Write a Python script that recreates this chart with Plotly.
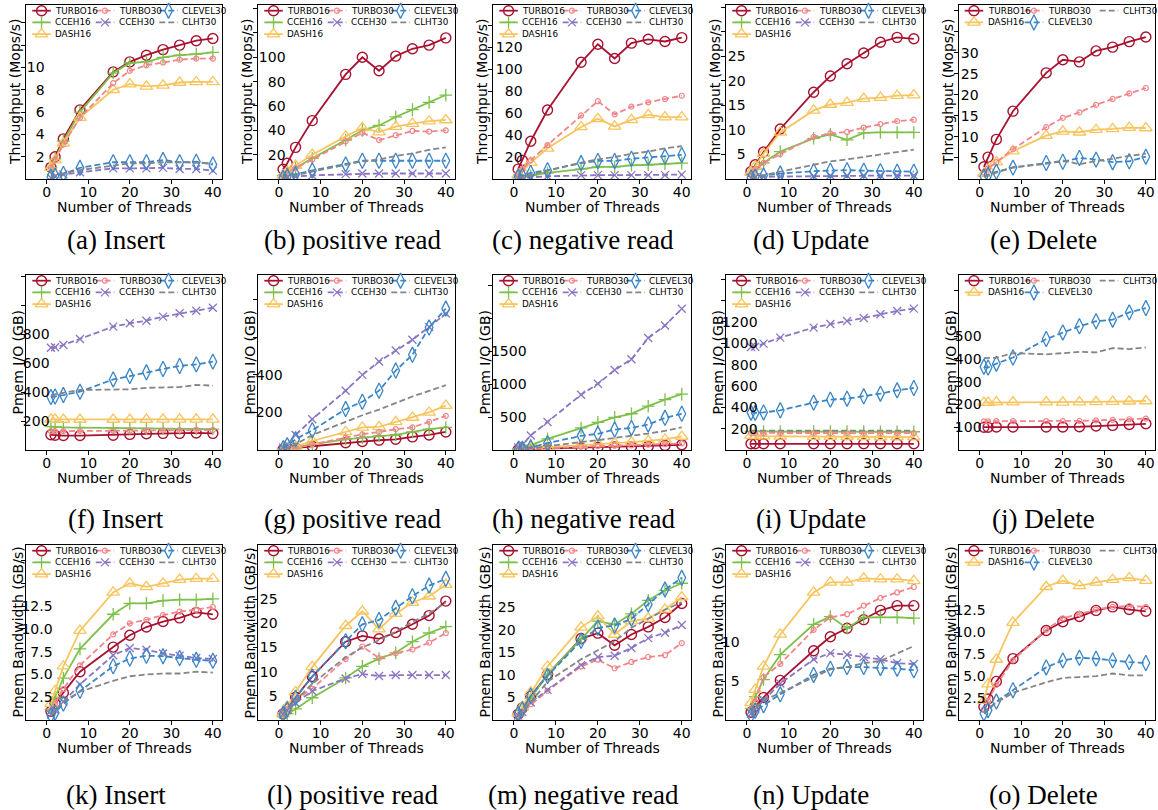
import plotly.graph_objects as go

W, H = 1158, 810

THREADS = [1, 2, 4, 8, 16, 20, 24, 28, 32, 36, 40]

# ---- throughput (Mops/s) ----
INSERT_TPUT = {
    "TURBO16": [1.05, 2.0, 3.6, 6.2, 9.6, 10.5, 11.1, 11.6, 12.0, 12.4, 12.6],
    "CCEH16": [1.0, 1.8, 3.4, 6.0, 9.5, 10.4, 10.5, 10.9, 11.1, 11.2, 11.35],
    "DASH16": [1.0, 1.7, 3.2, 5.5, 8.0, 8.5, 8.3, 8.4, 8.65, 8.7, 8.7],
    "TURBO30": [1.0, 1.7, 3.1, 5.5, 8.6, 9.7, 10.2, 10.45, 10.7, 10.8, 10.8],
    "CCEH30": [0.1, 0.2, 0.4, 0.6, 0.95, 0.95, 0.95, 1.0, 0.9, 0.9, 0.75],
    "CLEVEL30": [0.2, 0.3, 0.45, 1.0, 1.5, 1.5, 1.5, 1.7, 1.5, 1.55, 1.3],
    "CLHT30": [0.2, 0.3, 0.5, 0.8, 1.2, 1.4, 1.4, 1.5, 1.5, 1.45, 1.4],
}
POS_READ_TPUT = {
    "TURBO16": [8, 13, 26, 48, 86, 100, 89, 101, 107, 110, 116],
    "CCEH16": [3, 5, 9, 17, 32, 40, 44, 51, 57, 63, 69],
    "DASH16": [3, 6, 11, 20, 35, 42, 38.5, 43, 45.5, 47.5, 48.5],
    "TURBO30": [3, 5, 9, 16, 31, 38, 32, 36, 39.5, 39, 40],
    "CCEH30": [0.5, 1, 2, 3, 4, 4.5, 4.5, 4.5, 4.5, 4.5, 4.5],
    "CLEVEL30": [1, 2, 4, 7, 12, 15, 15, 15, 15, 15, 15],
    "CLHT30": [1, 1.5, 3, 6, 12, 14.5, 16, 19, 21, 24, 26],
}
NEG_READ_TPUT = {
    "TURBO16": [9, 17, 34.5, 63, 106.5, 123, 110, 124, 127.5, 125.5, 129],
    "CCEH16": [1, 2, 3, 5.5, 9, 11, 11, 12.5, 13, 14, 14.5],
    "DASH16": [4, 7, 15, 28, 47.5, 55, 48, 54, 58.5, 56.5, 56.5],
    "TURBO30": [5, 9, 17, 31, 58, 71, 59, 66, 70, 73, 76],
    "CCEH30": [0.5, 1, 1.5, 2.5, 3.5, 3.5, 3.5, 3.5, 3.5, 3.5, 4],
    "CLEVEL30": [2, 3, 5.5, 8, 14.5, 16.5, 16.5, 18.5, 19.5, 20.5, 22],
    "CLHT30": [1, 2, 4, 7.5, 15, 18, 20, 23, 25, 28, 30],
}
UPDATE_TPUT = {
    "TURBO16": [1.5, 2.9, 5.5, 10.2, 17.7, 21.0, 23.5, 25.7, 27.9, 28.9, 28.6],
    "CCEH16": [1.0, 2.0, 3.3, 5.6, 8.3, 9.1, 8.0, 9.4, 9.5, 9.5, 9.5],
    "DASH16": [1.3, 2.6, 5.2, 9.5, 14.0, 15.2, 15.6, 16.4, 16.6, 17.0, 17.1],
    "TURBO30": [1.0, 2.0, 3.3, 5.1, 8.6, 9.3, 9.6, 10.5, 11.2, 11.8, 12.1],
    "CCEH30": [0.2, 0.3, 0.4, 0.5, 0.6, 0.7, 0.7, 0.7, 0.7, 0.7, 0.7],
    "CLEVEL30": [0.3, 0.5, 0.7, 1.1, 1.6, 1.7, 1.8, 1.7, 1.6, 1.5, 1.5],
    "CLHT30": [0.3, 0.5, 0.8, 1.5, 3.0, 3.6, 4.0, 4.5, 5.0, 5.5, 6.0],
}
DELETE_TPUT = {
    "TURBO16": [2.9, 5.2, 9.4, 16.1, 25.2, 28.3, 27.8, 30.4, 31.3, 32.6, 33.7],
    "DASH16": [1.3, 2.3, 4.0, 6.6, 10.3, 11.3, 11.1, 11.7, 11.9, 12.2, 12.1],
    "TURBO30": [1.5, 2.5, 4.0, 7.1, 12.3, 14.5, 15.8, 17.6, 19.0, 20.3, 21.6],
    "CLEVEL30": [0.6, 1.0, 1.7, 2.7, 3.8, 4.1, 5.0, 4.6, 4.0, 4.2, 5.3],
    "CLHT30": [0.5, 0.9, 1.5, 2.8, 3.6, 4.4, 3.5, 4.3, 4.8, 5.5, 6.0],
}

# ---- Pmem I/O (GB) ----
INSERT_IO = {
    "TURBO16": [105, 102, 100, 100, 102, 108, 112, 115, 115, 118, 115],
    "CCEH16": [162, 160, 157, 155, 152, 150, 149, 148, 147, 146, 145],
    "DASH16": [212, 212, 211, 211, 211, 211, 211, 212, 212, 212, 212],
    "TURBO30": [130, 130, 131, 132, 133, 134, 135, 136, 137, 138, 138],
    "CCEH30": [707, 710, 726, 767, 853, 876, 894, 922, 945, 963, 984],
    "CLEVEL30": [366, 370, 380, 403, 488, 511, 537, 560, 581, 592, 611],
    "CLHT30": [380, 385, 395, 415, 418, 420, 430, 430, 435, 450, 445],
}
POS_READ_IO = {
    "TURBO16": [2, 4, 10, 20, 39, 45, 52, 57, 70, 80, 96],
    "CCEH16": [3, 6, 12, 30, 57, 66, 75, 80, 96, 111, 120],
    "DASH16": [5, 10, 18, 48, 96, 120, 123, 150, 173, 200, 236],
    "TURBO30": [3, 6, 12, 30, 66, 84, 96, 111, 120, 150, 182],
    "CCEH30": [14, 30, 80, 164, 316, 400, 471, 530, 587, 655, 727],
    "CLEVEL30": [8, 25, 57, 105, 218, 257, 316, 423, 507, 652, 753],
    "CLHT30": [4, 10, 30, 80, 150, 185, 215, 250, 285, 315, 345],
}
NEG_READ_IO = {
    "TURBO16": [5, 8, 12, 20, 35, 40, 45, 50, 55, 70, 80],
    "CCEH16": [20, 40, 75, 170, 335, 420, 495, 550, 665, 765, 848],
    "DASH16": [8, 15, 25, 45, 80, 95, 105, 120, 140, 160, 205],
    "TURBO30": [5, 8, 15, 30, 50, 60, 65, 70, 80, 90, 100],
    "CCEH30": [40, 80, 220, 424, 840, 1005, 1215, 1378, 1700, 1890, 2145],
    "CLEVEL30": [10, 20, 40, 104, 215, 245, 310, 335, 388, 488, 550],
    "CLHT30": [5, 12, 30, 60, 120, 150, 180, 220, 250, 290, 345],
}
UPDATE_IO = {
    "TURBO16": [58, 58, 58, 58, 58, 58, 58, 58, 58, 58, 58],
    "CCEH16": [175, 174, 174, 173, 173, 172, 172, 172, 171, 171, 171],
    "DASH16": [135, 132, 130, 128, 126, 125, 124, 123, 122, 121, 120],
    "TURBO30": [160, 160, 159, 159, 159, 158, 158, 158, 158, 158, 158],
    "CCEH30": [966, 968, 997, 1053, 1147, 1181, 1209, 1237, 1272, 1303, 1325],
    "CLEVEL30": [350, 348, 352, 372, 444, 472, 481, 503, 528, 559, 581],
    "CLHT30": [182, 182, 182, 182, 182, 182, 182, 182, 182, 182, 182],
}
DELETE_IO = {
    "TURBO16": [100, 100, 101, 101, 101, 101, 102, 105, 108, 112, 115],
    "DASH16": [208, 208, 210, 210, 210, 209, 210, 211, 212, 214, 215],
    "TURBO30": [126, 126, 127, 127, 127, 127, 128, 130, 132, 135, 138],
    "CLEVEL30": [365, 362, 379, 406, 487, 516, 543, 565, 572, 604, 623],
    "CLHT30": [403, 403, 405, 425, 420, 425, 431, 428, 447, 443, 450],
}

# ---- Pmem bandwidth (GB/s) ----
INSERT_BW = {
    "TURBO16": [0.95, 1.8, 3.0, 5.3, 8.0, 9.3, 10.2, 10.8, 11.2, 11.8, 11.6],
    "CCEH16": [1.2, 2.5, 4.6, 7.8, 11.6, 12.8, 12.8, 13.1, 13.2, 13.2, 13.3],
    "DASH16": [1.8, 3.2, 5.9, 9.8, 14.0, 15.0, 14.6, 15.0, 15.4, 15.5, 15.5],
    "TURBO30": [1.0, 1.8, 3.4, 6.0, 9.4, 10.6, 11.0, 11.5, 11.9, 12.1, 12.4],
    "CCEH30": [0.6, 1.1, 2.0, 3.9, 7.1, 7.9, 7.7, 7.3, 7.05, 6.8, 6.7],
    "CLEVEL30": [0.5, 0.8, 1.8, 3.2, 5.9, 6.75, 7.05, 7.0, 6.8, 6.6, 6.5],
    "CLHT30": [0.5, 1.0, 2.0, 3.1, 4.3, 4.8, 5.0, 5.1, 5.1, 5.3, 5.2],
}
POS_READ_BW = {
    "TURBO16": [1.3, 2.3, 4.7, 9.0, 16.2, 17.4, 16.8, 18.1, 19.8, 21.6, 24.6],
    "CCEH16": [0.7, 1.3, 2.3, 4.6, 8.7, 11.1, 12.7, 13.9, 16.2, 18.0, 19.3],
    "DASH16": [1.5, 2.8, 5.8, 11.0, 19.5, 22.5, 18.8, 22.0, 24.3, 25.6, 28.0],
    "TURBO30": [1.3, 2.2, 4.2, 6.5, 12.6, 15.2, 12.8, 13.8, 14.6, 16.0, 18.0],
    "CCEH30": [1.2, 2.0, 3.5, 6.0, 8.6, 9.5, 9.1, 9.3, 9.3, 9.3, 9.3],
    "CLEVEL30": [1.2, 2.2, 4.6, 9.0, 16.3, 19.8, 20.7, 23.2, 25.6, 27.8, 29.2],
    "CLHT30": [1.0, 2.0, 4.0, 7.5, 13.0, 15.0, 16.5, 18.3, 20.3, 22.0, 24.3],
}
NEG_READ_BW = {
    "TURBO16": [1.3, 2.7, 5.3, 10.1, 18.1, 19.3, 16.6, 19.0, 20.7, 22.8, 25.9],
    "CCEH16": [1.1, 2.2, 4.8, 10.2, 18.0, 22.0, 21.2, 23.6, 26.6, 28.8, 30.4],
    "DASH16": [1.5, 3.0, 6.2, 11.9, 20.6, 23.1, 19.0, 22.0, 22.6, 24.6, 27.3],
    "TURBO30": [1.0, 1.8, 3.5, 6.5, 11.9, 13.4, 11.5, 12.9, 14.0, 14.4, 17.1],
    "CCEH30": [1.0, 1.8, 3.9, 6.7, 12.2, 14.0, 14.3, 16.0, 18.2, 19.4, 21.1],
    "CLEVEL30": [1.4, 2.4, 5.4, 9.8, 17.6, 20.5, 21.0, 22.5, 25.7, 29.0, 31.6],
    "CLHT30": [1.0, 2.0, 4.0, 8.5, 13.5, 15.5, 17.5, 20.5, 22.5, 24.5, 26.2],
}
UPDATE_BW = {
    "TURBO16": [1.0, 1.8, 2.9, 5.1, 8.9, 10.7, 11.8, 12.9, 14.1, 14.7, 14.7],
    "CCEH16": [1.5, 3.0, 5.2, 8.4, 12.3, 13.3, 11.8, 13.2, 13.2, 13.2, 13.1],
    "DASH16": [2.2, 3.9, 6.9, 11.0, 16.4, 17.7, 17.7, 18.2, 18.1, 18.1, 17.9],
    "TURBO30": [1.3, 2.4, 5.5, 7.2, 11.6, 13.2, 13.6, 14.7, 15.7, 16.4, 17.1],
    "CCEH30": [0.8, 1.4, 2.5, 4.7, 7.8, 8.6, 8.4, 8.1, 7.8, 7.3, 7.2],
    "CLEVEL30": [0.6, 1.2, 1.9, 3.3, 5.8, 6.6, 6.8, 6.8, 6.7, 6.6, 6.4],
    "CLHT30": [0.8, 1.5, 2.5, 3.5, 5.5, 6.5, 6.8, 7.3, 7.6, 8.5, 9.5],
}
DELETE_BW = {
    "TURBO16": [1.5, 2.4, 4.4, 7.0, 10.2, 11.2, 11.8, 12.5, 12.9, 12.6, 12.4],
    "DASH16": [2.2, 4.1, 6.9, 11.1, 15.2, 15.9, 15.3, 15.7, 16.0, 16.2, 15.9],
    "TURBO30": [1.2, 2.2, 4.0, 6.8, 10.3, 11.6, 12.1, 12.6, 12.9, 13.0, 12.9],
    "CLEVEL30": [0.75, 1.1, 2.1, 3.4, 6.0, 6.8, 7.1, 7.0, 6.8, 6.6, 6.5],
    "CLHT30": [0.8, 1.3, 2.0, 3.1, 4.3, 4.8, 4.9, 5.0, 5.3, 5.1, 5.1],
}

# plotting order (matplotlib legend is filled column by column, 3 columns)
ORDER = ["TURBO16", "CCEH16", "DASH16", "TURBO30", "CCEH30", "CLEVEL30", "CLHT30"]
LEGEND_FULL = [["TURBO16", "CCEH16", "DASH16"], ["TURBO30", "CCEH30"], ["CLEVEL30", "CLHT30"]]
LEGEND_DEL = [["TURBO16", "DASH16"], ["TURBO30", "CLEVEL30"], ["CLHT30"]]

STYLE = {
    "TURBO16": dict(color="#a8112f", dash="solid", symbol="circle-open", size=10, mw=1.4),
    "CCEH16": dict(color="#7dc04b", dash="solid", symbol="cross-thin-open", size=9, mw=1.3),
    "DASH16": dict(color="#f7c55e", dash="solid", symbol="triangle-up-open", size=11, mw=1.3),
    "TURBO30": dict(color="#f2858a", dash="6px,3px", symbol="circle-open", size=5, mw=1.2),
    "CCEH30": dict(color="#8a75c2", dash="6px,3px", symbol="x-thin-open", size=8, mw=1.3),
    "CLEVEL30": dict(color="#3b86c6", dash="6px,3px", symbol="diamond-tall-open", size=11, mw=1.3),
    "CLHT30": dict(color="#858585", dash="6px,3px", symbol=None, size=0, mw=0),
}

# frame geometry in pixels
COL_L = [26, 258, 493, 726, 959]
COL_R = [222, 455, 691, 923, 1155]
ROW_T = [5, 275, 545]
ROW_B = [179, 450, 720]
CAPTION_X = [116, 352, 583, 811, 1043]
CAPTION_Y = [240, 519, 795]
YTITLE_DX = [11, 9, 9]

TITLES = ["Throughput (Mops/s)", "Pmem I/O (GB)", "Pmem Bandwidth (GB/s)"]
OPS = ["Insert", "positive read", "negative read", "Update", "Delete"]
LETTERS = "abcdefghijklmno"

# data, y max, tick step, last labelled tick, tick text format, label inset(px)
PANELS = [
    (INSERT_TPUT, 15.6, 2, 10, "{:g}", 19),
    (POS_READ_TPUT, 143, 20, 100, "{:g}", 28),
    (NEG_READ_TPUT, 158.8, 20, 120, "{:g}", 30),
    (UPDATE_TPUT, 35.5, 5, 25, "{:g}", 20),
    (DELETE_TPUT, 41.3, 5, 30, "{:g}", 20),
    (INSERT_IO, 1210, 200, 800, "{:g}", 24),
    (POS_READ_IO, 932, 200, 400, "{:g}", 25),
    (NEG_READ_IO, 2657, 500, 1500, "{:g}", 34),
    (UPDATE_IO, 1640, 200, 1200, "{:g}", 32),
    (DELETE_IO, 768, 100, 500, "{:g}", 23),
    (INSERT_BW, 19.2, 2.5, 12.5, "{:.1f}", 27),
    (POS_READ_BW, 36.2, 5, 25, "{:g}", 20),
    (NEG_READ_BW, 38.9, 5, 25, "{:g}", 23),
    (UPDATE_BW, 22.5, 5, 10, "{:g}", 14),
    (DELETE_BW, 19.96, 2.5, 12.5, "{:.1f}", 27),
]

FONT = "DejaVu Sans"
fig = go.Figure()
annotations = []
layout_axes = {}


def px_x(px):
    return px / W


def px_y(py):
    return 1 - py / H


for k, (data, ymax, step, last_lab, fmt, inset) in enumerate(PANELS):
    r, c = divmod(k, 5)
    n = k + 1
    xa = "x" if n == 1 else f"x{n}"
    ya = "y" if n == 1 else f"y{n}"
    L, R, T, B = COL_L[c], COL_R[c], ROW_T[r], ROW_B[r]

    for name in ORDER:
        if name not in data:
            continue
        st = STYLE[name]
        trace = dict(
            x=THREADS, y=data[name], xaxis=xa, yaxis=ya, showlegend=False,
            line=dict(color=st["color"], width=1.8, dash=st["dash"]),
            hoverinfo="skip",
        )
        if st["symbol"]:
            trace["mode"] = "lines+markers"
            trace["marker"] = dict(symbol=st["symbol"], size=st["size"], color=st["color"],
                                   line=dict(width=st["mw"], color=st["color"]))
        else:
            trace["mode"] = "lines"
        fig.add_trace(go.Scatter(**trace))

    ticks = []
    v = step
    while v <= ymax:
        ticks.append(round(v, 6))
        v += step
    ticktext = [fmt.format(t) if t <= last_lab + 1e-9 else "" for t in ticks]

    axis_common = dict(showline=True, mirror=True, linecolor="black", linewidth=1.3,
                       ticks="outside", ticklen=3.5, tickwidth=1, tickcolor="black",
                       showgrid=False, zeroline=False,
                       tickfont=dict(family=FONT, size=14, color="black"))
    layout_axes["xaxis" if n == 1 else f"xaxis{n}"] = dict(
        domain=[px_x(L), px_x(R)], anchor=ya, range=[-5, 42.2],
        tickvals=[0, 10, 20, 30, 40], ticklabelstandoff=-3, **axis_common)
    layout_axes["yaxis" if n == 1 else f"yaxis{n}"] = dict(
        domain=[px_y(B), px_y(T)], anchor=xa, range=[0, ymax],
        tickvals=ticks, ticktext=ticktext, ticklabelstandoff=-int(round(inset + 7)),
        **axis_common)

    # axis titles
    annotations.append(dict(text="Number of Threads", x=px_x((L + R) / 2), y=px_y(B + 28),
                            xref="paper", yref="paper", showarrow=False,
                            font=dict(family=FONT, size=14, color="black"),
                            xanchor="center", yanchor="middle"))
    annotations.append(dict(text=TITLES[r], x=px_x(L - YTITLE_DX[r]), y=px_y((T + B) / 2),
                            xref="paper", yref="paper", showarrow=False, textangle=-90,
                            font=dict(family=FONT, size=14, color="black"),
                            xanchor="center", yanchor="middle"))
    # caption
    annotations.append(dict(text=f"({LETTERS[k]}) {OPS[c]}", x=px_x(CAPTION_X[c]),
                            y=px_y(CAPTION_Y[r]), xref="paper", yref="paper",
                            showarrow=False, xanchor="center", yanchor="middle",
                            font=dict(family="Liberation Serif", size=27, color="black")))

    # legend block
    grid = LEGEND_DEL if c == 4 else LEGEND_FULL
    col_dx = [5.7, 65.7, 140.7] if c == 4 else [6.3, 69.7, 133.3]
    for ci, col in enumerate(grid):
        for ri, name in enumerate(col):
            st = STYLE[name]
            hx0 = L + col_dx[ci]
            hy = T + 5.7 + 11.7 * ri
            fig.add_trace(go.Scatter(
                x=[hx0, hx0 + 18.5], y=[hy, hy], xaxis="x16", yaxis="y16",
                mode="lines", line=dict(color=st["color"], width=1.8, dash=st["dash"]),
                showlegend=False, hoverinfo="skip", cliponaxis=False))
            if st["symbol"]:
                fig.add_trace(go.Scatter(
                    x=[hx0 + 9.25], y=[hy], xaxis="x16", yaxis="y16", mode="markers",
                    marker=dict(symbol=st["symbol"], size=st["size"], color=st["color"],
                                line=dict(width=st["mw"], color=st["color"])),
                    showlegend=False, hoverinfo="skip", cliponaxis=False))
            annotations.append(dict(text=name, x=px_x(hx0 + 21), y=px_y(hy),
                                    xref="paper", yref="paper", showarrow=False,
                                    xanchor="left", yanchor="middle",
                                    font=dict(family=FONT, size=8.8, color="black")))

layout_axes["xaxis16"] = dict(domain=[0, 1], range=[0, W], visible=False, anchor="y16")
layout_axes["yaxis16"] = dict(domain=[0, 1], range=[H, 0], visible=False, anchor="x16")

fig.update_layout(
    width=W, height=H, margin=dict(l=0, r=0, t=0, b=0),
    paper_bgcolor="white", plot_bgcolor="rgba(0,0,0,0)",
    showlegend=False, annotations=annotations, **layout_axes,
)

fig.write_html("out.html")
